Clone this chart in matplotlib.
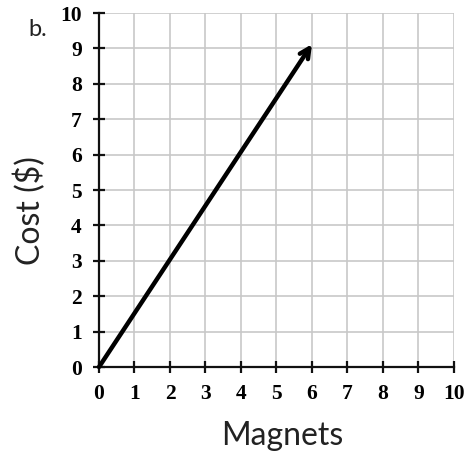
import matplotlib
matplotlib.use("Agg")
import matplotlib.pyplot as plt

magnets = [0, 6]
cost = [0, 9]
ticks = list(range(0, 11))

fig = plt.figure(figsize=(4.65, 4.53), dpi=100)
ax = fig.add_axes([0.2129, 0.1898, 0.7634, 0.7815])
ax.set_xlim(0, 10)
ax.set_ylim(0, 10)
ax.set_xticks(ticks)
ax.set_yticks(ticks)
ax.grid(True, color="#c8c8c8", linewidth=1.2)
ax.set_axisbelow(True)
for s in ["top", "right"]:
    ax.spines[s].set_visible(False)
for s in ["left", "bottom"]:
    ax.spines[s].set_linewidth(1.6)
    ax.spines[s].set_color("#111111")
ax.tick_params(direction="inout", length=9, width=1.6, color="#111111")
ax.tick_params(axis="x", pad=8)
ax.tick_params(axis="y", pad=8)
for lab in ax.get_xticklabels() + ax.get_yticklabels():
    lab.set_fontfamily("Liberation Serif")
    lab.set_fontweight("bold")
    lab.set_fontsize(15.5)

ax.annotate("", xy=(magnets[1], cost[1] + 0.12), xytext=(magnets[0], cost[0]),
            arrowprops=dict(arrowstyle="->,head_length=0.7,head_width=0.35",
                            lw=3.2, color="black", shrinkA=0, shrinkB=0),
            annotation_clip=False)

fig.text(0.607, 0.038, "Magnets", fontsize=23, family="Lato", ha="center", va="center", color="#222222")
fig.text(0.065, 0.535, "Cost ($)", fontsize=23, family="Lato", rotation=90, ha="center", va="center", color="#222222")
fig.text(0.082, 0.935, "b.", fontsize=17, family="Lato", ha="center", va="center", color="#222222")

fig.savefig("out.png", dpi=100)
